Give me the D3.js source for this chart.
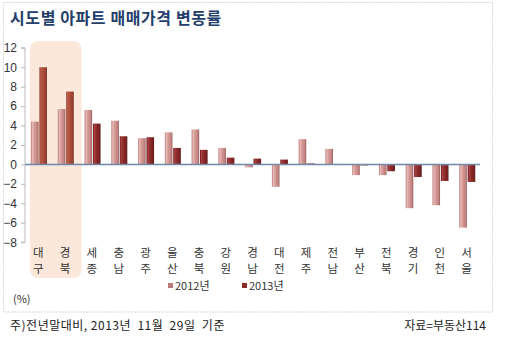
<!DOCTYPE html>
<html><head><meta charset="utf-8">
<script src="https://cdn.jsdelivr.net/npm/d3@7"></script>
<style>
html,body{margin:0;padding:0;background:#fff;}
svg{display:block;font-family:"Noto Sans CJK KR","DejaVu Sans",sans-serif;}
</style></head>
<body><svg id="c" width="519" height="337"></svg>
<script>
const categories = ["대구","경북","세종","충남","광주","울산","충북","강원","경남","대전","제주","전남","부산","전북","경기","인천","서울"];
const series = ["2012년","2013년"];
const values2012 = [4.4,5.7,5.6,4.5,2.7,3.3,3.6,1.7,-0.3,-2.3,2.6,1.6,-1.1,-1.1,-4.5,-4.2,-6.5];
const values2013 = [10.0,7.5,4.2,2.9,2.8,1.7,1.5,0.7,0.6,0.5,0.1,0.05,-0.1,-0.7,-1.3,-1.7,-1.8];
const yTicks = [12,10,8,6,4,2,0,-2,-4,-6,-8];
const highlighted = ["대구","경북"];

const svg = d3.select("#c");
const defs = svg.append("defs");
function grad(id, stops){
  const g = defs.append("linearGradient").attr("id", id).attr("x1","0").attr("x2","1").attr("y1","0").attr("y2","0");
  stops.forEach(s => g.append("stop").attr("offset", s[0]).attr("stop-color", s[1]));
}
grad("g12", [[0,"#b87b7a"],[0.2,"#e8b8b4"],[0.45,"#d49a97"],[0.85,"#c0807e"],[1,"#8e5553"]]);
grad("g13", [[0,"#6e1a1a"],[0.2,"#a84040"],[0.5,"#8a2a2a"],[0.9,"#76201f"],[1,"#4e1010"]]);
grad("g13h", [[0,"#8a3a2e"],[0.2,"#c0604c"],[0.5,"#a84c3c"],[0.9,"#96402f"],[1,"#6a2a20"]]);

// frame
svg.append("rect").attr("x",3.5).attr("y",2.5).attr("width",489).attr("height",309.5)
  .attr("fill","none").attr("stroke","#d8d8d8").attr("stroke-dasharray","2,1");

// title
svg.append("text").attr("x",10).attr("y",24).attr("font-size",16).attr("font-weight","bold")
  .attr("letter-spacing",0.6).attr("fill","#24406a").text("시도별 아파트 매매가격 변동률");

const x0 = d3.scaleBand().domain(categories).range([25,480]);
const x1 = d3.scaleBand().domain(series).range([6,22]).paddingInner(0.1);
const y = d3.scaleLinear().domain([-8,12]).range([242.2,47.8]);

// highlight box
const hx0 = x0(highlighted[0]) + 5, hx1 = x0(highlighted[1]) + x0.bandwidth() + 3;
svg.append("rect").attr("x",hx0).attr("y",41).attr("width",hx1-hx0).attr("height",237)
  .attr("rx",8).attr("fill","#fbe8da");

// y axis
const yAxis = d3.axisLeft(y).tickValues(yTicks).tickSize(4).tickFormat(d3.format("d"));
const ga = svg.append("g").attr("transform","translate(25,0)").call(yAxis);
ga.select(".domain").attr("stroke","#bbbbbb").attr("d","M-4,"+y(12)+"H0V"+y(-8)+"H-4");
ga.selectAll(".tick line").attr("stroke","#bbbbbb");
ga.selectAll(".tick text").attr("font-size",12).attr("fill","#333").attr("x",-8)
  .attr("font-family","Liberation Sans, Arial, sans-serif");

// bars
const data = categories.map((c,i)=>({c, v:[values2012[i], values2013[i]]}));
const groups = svg.append("g").selectAll("g").data(data).join("g")
  .attr("transform", d=>`translate(${x0(d.c)},0)`);
groups.selectAll("rect").data(d=>series.map((s,j)=>({s, v:d.v[j], c:d.c}))).join("rect")
  .attr("x", d=>x1(d.s)).attr("width", x1.bandwidth())
  .attr("y", d=>y(Math.max(0,d.v))).attr("height", d=>Math.abs(y(d.v)-y(0)))
  .attr("fill", d=> d.s==="2012년" ? "url(#g12)" : (highlighted.includes(d.c) ? "url(#g13h)" : "url(#g13)"));

// zero line
svg.append("line").attr("x1",25).attr("x2",480).attr("y1",y(0)).attr("y2",y(0))
  .attr("stroke","#7088aa").attr("stroke-width",1.5);

// category labels (vertical stacked chars, one text per char)
const chars = [];
categories.forEach(c => [...c].forEach((ch,k)=>chars.push({c, ch, k})));
svg.append("g").selectAll("text").data(chars).join("text")
  .attr("text-anchor","middle").attr("font-size",11.5).attr("fill","#333")
  .attr("x", d=>x0(d.c) + x0.bandwidth()/2)
  .attr("y", d=>257 + d.k*16)
  .text(d=>d.ch);

// legend
const leg = [{s:"2012년", x:168, f:"#b87b7a"},{s:"2013년", x:242, f:"#8a2a2a"}];
leg.forEach(l=>{
  svg.append("rect").attr("x",l.x).attr("y",283).attr("width",5).attr("height",5).attr("fill",l.f);
  svg.append("text").attr("x",l.x+7).attr("y",290).attr("font-size",11).attr("fill","#333").text(l.s);
});
svg.append("text").attr("x",13).attr("y",303).attr("font-size",11).attr("fill","#333").text("(%)");

// footer
svg.append("text").attr("x",10).attr("y",330).attr("font-size",12).attr("fill","#222")
  .attr("letter-spacing",0.5).attr("xml:space","preserve").text("주)전년말대비, 2013년  11월  29일  기준");
svg.append("text").attr("x",486).attr("y",330).attr("font-size",12).attr("fill","#222")
  .attr("text-anchor","end").text("자료=부동산114");
</script></body></html>
